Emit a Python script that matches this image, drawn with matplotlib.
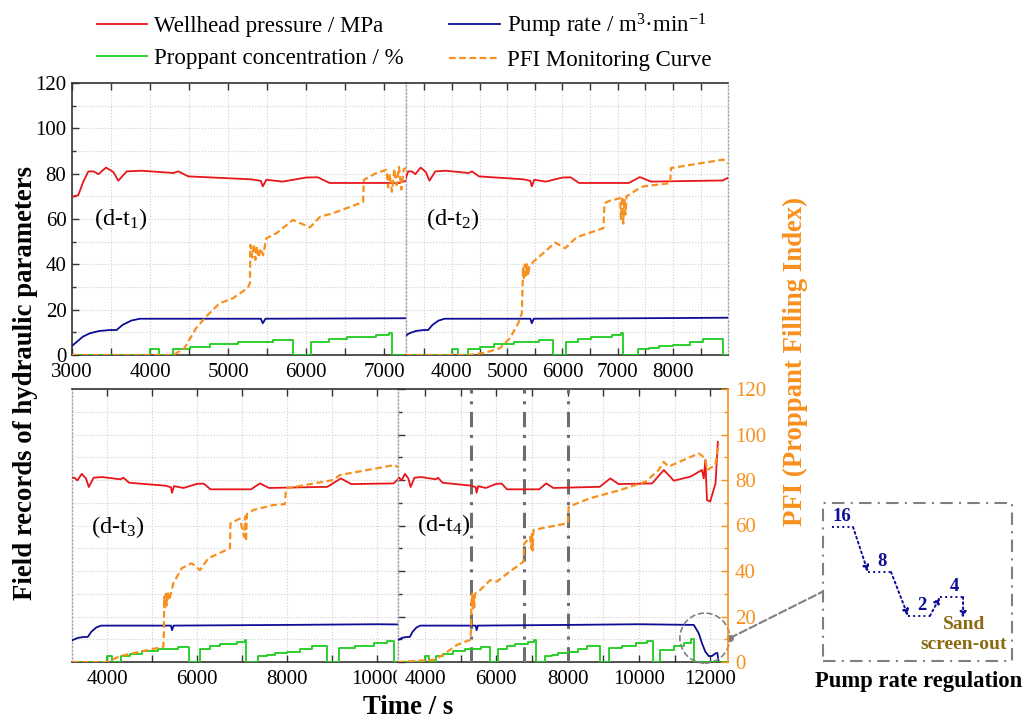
import matplotlib
matplotlib.use("Agg")
import matplotlib.pyplot as plt
from matplotlib.ticker import MultipleLocator
from matplotlib.patches import Ellipse, Rectangle, ConnectionPatch
from matplotlib.transforms import Bbox, TransformedBbox

plt.rcParams['font.family'] = ['Liberation Serif', 'DejaVu Serif']
plt.rcParams['mathtext.fontset'] = 'custom'
plt.rcParams['mathtext.rm'] = 'Liberation Serif'
plt.rcParams['mathtext.it'] = 'Liberation Serif:italic'
plt.rcParams['mathtext.bf'] = 'Liberation Serif:bold'

# ---- shared field records (time in s) ----
press_t = [3000, 3080, 3145, 3210, 3275, 3340, 3436, 3530, 3594, 3700, 3890, 4300, 4363, 4490,
           5300, 5420, 5445, 5490, 5700, 6000, 6150, 6300, 7200, 7400, 7600, 8900, 9200, 9430,
           10370, 10700, 10980, 11450, 11770, 11820, 11865, 11910, 12000, 12150, 12215]
press_v = [69.8, 70.5, 76.5, 81, 81, 79.8, 82.7, 80.7, 76.9, 81, 81.3, 80.3, 81, 78.8,
           77.5, 76.8, 74.4, 77.3, 76.5, 78.3, 78.4, 75.9, 75.9, 78.5, 76.5, 77, 80.7, 78.2,
           78.5, 84.4, 79.7, 81.5, 84.4, 80.7, 88.8, 71.2, 70.5, 78.5, 96.8]

pump_t = [3000, 3140, 3230, 3350, 3480, 3570, 3650, 3760, 3870, 5420, 5445, 5480, 8000, 10000,
          11540, 11680, 11770, 11865, 11960, 12050, 12150, 12200, 12240]
pump_v = [4, 8.1, 9.6, 10.6, 11, 11, 13.3, 15.2, 16, 16, 14, 16, 16.3, 16.6,
          16.3, 12.6, 8.2, 4.5, 2.6, 2.6, 3.8, 4, 0]

conc_t = [3000, 4000, 4110, 4300, 4510, 4770, 5130, 5580, 5830, 6060, 6290, 6520, 6900, 7060,
          7100, 7360, 7560, 7740, 8000, 8300, 8550, 8900, 9150, 9520, 9930, 10230, 10390,
          10580, 10980, 11260, 11450, 11540, 12500]
conc_v = [0, 2.6, 0, 2.6, 3.7, 4.7, 5.9, 6.8, 0, 5.8, 6.9, 7.8, 8.8, 9.8,
          0, 2.6, 3.2, 3.8, 4.6, 5.7, 6.9, 0, 6, 7, 8.2, 9.4, 0,
          5.3, 7, 8.2, 10, 0, 0]

# ---- PFI monitoring curves, one per stage ----
pfi1_t = [3000, 4300, 4440, 4590, 4720, 4890, 5060, 5250, 5280, 5285, 5310, 5330, 5350, 5370,
          5390, 5420, 5450, 5490, 5620, 5830, 6050, 6180, 6350, 6730, 6740, 6900, 7030, 7050,
          7070, 7100, 7130, 7160, 7190, 7220, 7250, 7280]
pfi1_v = [0, 0, 3, 11.8, 17, 22.8, 25, 29.5, 31.7, 48.6, 43, 49, 42, 48,
          43, 47, 44, 51.5, 53.7, 59.6, 56.3, 61, 62.6, 67.5, 77.3, 80.3, 81.7, 74,
          80, 72, 82, 75, 83, 73, 82, 82.5]

pfi2_t = [3170, 4300, 4600, 4870, 5050, 5200, 5265, 5277, 5289, 5300, 5320, 5340, 5360, 5380,
          5400, 5476, 5657, 5868, 6049, 6260, 6742, 6760, 6850, 7044, 7060, 7080, 7100, 7120,
          7140, 7160, 7345, 7465, 7947, 7965, 8912, 8990]
pfi2_v = [0, 0, 1, 3, 7.4, 14, 18.4, 28.7, 39, 34, 40, 35, 40, 35,
          39, 41.2, 45, 49.6, 47.1, 52, 56, 67, 68, 69.2, 60, 70, 58, 69,
          62, 70, 72.9, 74.4, 75.8, 82.5, 86.2, 84.4]

pfi3_t = [3220, 4000, 4290, 4730, 5250, 5263, 5270, 5290, 5310, 5330, 5350, 5380, 5474, 5659,
          5881, 6067, 6252, 6733, 6744, 6950, 7050, 7070, 7090, 7110, 7252, 7696, 7956, 7978,
          9030, 9178, 10400, 10467]
pfi3_v = [0, 0, 2.6, 4.5, 6.7, 12.6, 28.7, 24, 30, 25, 31, 27, 34.6, 41.2,
          43.4, 40.4, 45.6, 50, 61, 63, 55, 64, 53, 65, 66.8, 69, 69.4, 76.3,
          80, 82.2, 86.6, 85.6]

pfi4_t = [3240, 4281, 4562, 4890, 5264, 5292, 5296, 5320, 5340, 5360, 5380, 5400, 5545, 5826,
          6014, 6247, 6761, 6780, 6950, 6980, 7000, 7020, 7040, 7278, 7604, 8006, 8030, 8635,
          9478, 10189, 10553, 10695, 10835, 11678, 11865, 11912, 12146, 12240]
pfi4_v = [0, 1, 3.8, 7.5, 9.7, 14, 25.8, 30, 23, 29, 24, 30, 31.6, 36,
          35.3, 38.2, 44.1, 52, 55, 50, 57, 49, 58, 58.8, 59.8, 61, 68.3, 72,
          75.6, 79.3, 84.4, 88, 85.9, 91.7, 89.5, 84.4, 86.6, 96]

regulation_times = [5300, 6780, 8000]
pump_steps = [16, 8, 2, 4]

RED = '#E8161B'
BLUE = '#0D0D96'
GREEN = '#1ECB1E'
ORANGE = '#F7901E'
GRID = '#CFCFCF'
DOT_SPINE = '#A8A8A8'

W, H = 1027, 721
fig = plt.figure(figsize=(W / 100, H / 100), dpi=100)


def px_axes(x0, x1, ytop, ybot):
    return fig.add_axes([x0 / W, 1 - ybot / H, (x1 - x0) / W, (ybot - ytop) / H])


panels = [
    dict(box=(72, 406, 83, 355), xlim=(3000, 7280), major=1000, minor=500, pfi=(pfi1_t, pfi1_v),
         tag='(d-t$_1$)', tagpos=(0.065, 0.50), left='solid', right='dotted', ylabels=True),
    dict(box=(406, 728, 83, 355), xlim=(3170, 8995), major=1000, minor=500, pfi=(pfi2_t, pfi2_v),
         tag='(d-t$_2$)', tagpos=(0.062, 0.50), left='dotted', right='dotted', ylabels=False),
    dict(box=(72, 398, 389, 662), xlim=(3220, 10470), major=2000, minor=1000, pfi=(pfi3_t, pfi3_v),
         tag='(d-t$_3$)', tagpos=(0.058, 0.495), left='dotted', right='dotted', ylabels=False),
    dict(box=(398, 728, 389, 662), xlim=(3240, 12500), major=2000, minor=1000, pfi=(pfi4_t, pfi4_v),
         tag='(d-t$_4$)', tagpos=(0.058, 0.50), left='dotted', right='none', ylabels=False),
]

axes = []
for p in panels:
    x0, x1, yt, yb = p['box']
    ax = px_axes(x0, x1, yt, yb)
    ax.plot(press_t, press_v, color=RED, lw=1.3, zorder=4)
    ax.plot(pump_t, pump_v, color=BLUE, lw=1.3, zorder=4)
    ax.step(conc_t, conc_v, where='post', color=GREEN, lw=1.3, zorder=4)
    ax.plot(p['pfi'][0], p['pfi'][1], color=ORANGE, lw=1.6, ls=(0, (3, 1.6)), zorder=5)
    ax.set_xlim(*p['xlim'])
    ax.set_ylim(0, 120)
    ax.xaxis.set_major_locator(MultipleLocator(p['major']))
    ax.xaxis.set_minor_locator(MultipleLocator(p['minor']))
    ax.yaxis.set_major_locator(MultipleLocator(20))
    ax.yaxis.set_minor_locator(MultipleLocator(10))
    ax.grid(True, which='both', color=GRID, ls=':', lw=0.8)
    ax.set_axisbelow(True)
    ax.tick_params(axis='x', which='both', direction='in', top=True, length=5, width=1,
                   color='#333333', labelsize=15, pad=6)
    ax.tick_params(axis='y', which='major', direction='in', length=5, width=1, color='#333333',
                   labelsize=15, left=p['ylabels'], labelleft=p['ylabels'], right=False, pad=4)
    ax.tick_params(axis='y', which='minor', direction='in', length=3, width=1, color='#333333',
                   left=p['ylabels'], right=False)
    for side in ['top', 'bottom']:
        ax.spines[side].set_color('#333333')
        ax.spines[side].set_linewidth(1.2)
    for side in ['left', 'right']:
        style = p[side]
        if style == 'solid':
            ax.spines[side].set_color('#333333')
            ax.spines[side].set_linewidth(1.2)
        elif style == 'dotted':
            ax.spines[side].set_color(DOT_SPINE)
            ax.spines[side].set_linestyle(':')
            ax.spines[side].set_linewidth(1.0)
        else:
            ax.spines[side].set_visible(False)
    ax.text(p['tagpos'][0], p['tagpos'][1], p['tag'], transform=ax.transAxes, fontsize=17.5,
            va='center', ha='left', zorder=6)
    axes.append(ax)

ax1, ax2, ax3, ax4 = axes

# tick label "10000" of panel 3 is hidden under panel 4
clip = TransformedBbox(Bbox.from_extents(0, 0, 397 / W, 1), fig.transFigure)
for t in ax3.xaxis.get_major_ticks():
    t.label1.set_clip_box(clip)
    t.label1.set_clip_on(True)

# regulation markers in panel 4
for t in regulation_times:
    ax4.axvline(t, color='#6E6E6E', lw=2.2, ls=(0, (5, 2.5, 1, 2.5)), zorder=3)

# right PFI axis on panel 4
axr = ax4.twinx()
axr.set_ylim(0, 120)
axr.yaxis.set_major_locator(MultipleLocator(20))
axr.yaxis.set_minor_locator(MultipleLocator(10))
axr.tick_params(axis='y', which='major', direction='in', length=5, width=1, colors=ORANGE,
                labelsize=15, pad=5)
axr.tick_params(axis='y', which='minor', direction='in', length=3, width=1, color=ORANGE)
axr.spines['right'].set_color(ORANGE)
axr.spines['right'].set_linewidth(1.2)
for side in ['left', 'top', 'bottom']:
    axr.spines[side].set_visible(False)

# zoom circle around sand screen-out
circ = Ellipse((11850, 10.5), 1400, 22, transform=ax4.transData, fill=False,
               ec='#808080', ls='--', lw=1.2, clip_on=False, zorder=7)
ax4.add_patch(circ)

# inset: pump rate regulation schematic
axi = fig.add_axes([823 / W, 1 - 661 / H, 189 / W, 158 / H])
axi.set_xlim(0, 1)
axi.set_ylim(0, 1)
axi.axis('off')
axi.add_patch(Rectangle((0, 0), 1, 1, transform=axi.transAxes, fill=False, ec='#808080',
                        lw=1.5, ls=(0, (6, 3, 1, 3)), clip_on=False))
lvl_y = [0.848, 0.563, 0.285, 0.405]
lvl_x = [(0.048, 0.159), (0.238, 0.36), (0.45, 0.566), (0.619, 0.741)]
arrow_kw = dict(arrowstyle='-|>', color=BLUE, lw=1.4, ls=':', mutation_scale=9,
                shrinkA=0, shrinkB=0)
for i, val in enumerate(pump_steps):
    xa, xb = lvl_x[i]
    axi.plot([xa, xb], [lvl_y[i], lvl_y[i]], color=BLUE, lw=1.4, ls=':')
    axi.text(xa + 0.05, lvl_y[i] + 0.015, str(val), color=BLUE,
             fontsize=13.5, fontweight='bold', ha='center' if i == 0 else 'left', va='bottom')
    if i + 1 < len(pump_steps):
        axi.annotate('', xy=(lvl_x[i + 1][0], lvl_y[i + 1]), xytext=(xb, lvl_y[i]),
                     arrowprops=arrow_kw)
axi.annotate('', xy=(lvl_x[-1][1], 0.272), xytext=(lvl_x[-1][1], lvl_y[-1]), arrowprops=arrow_kw)
axi.text(0.745, 0.228, 'Sand', color='#8A6A12', fontsize=14, fontweight='bold',
         ha='center', va='center')
axi.text(0.745, 0.105, 'screen-out', color='#8A6A12', fontsize=14, fontweight='bold',
         ha='center', va='center')

con = ConnectionPatch(xyA=(12550, 10.5), coordsA=ax4.transData, xyB=(0, 0.44),
                      coordsB=axi.transAxes, color='#808080', ls='--', lw=1.5, zorder=8)
fig.add_artist(con)
ax4.plot([12550], [10.5], 'o', color='#808080', ms=4, clip_on=False, zorder=8)

fig.text(919 / W, 1 - 682 / H, 'Pump rate regulation', fontsize=16.3, fontweight='bold',
         ha='center', va='center')

# axis titles
fig.text(0.025, 1 - 383 / H, 'Field records of hydraulic parameters', rotation=90,
         fontsize=19.3, fontweight='bold', ha='center', va='center')
fig.text(795 / W, 1 - 361 / H, 'PFI (Proppant Filling Index)', rotation=90, color=ORANGE,
         fontsize=19.3, fontweight='bold', ha='center', va='center')
fig.text(408 / W, 1 - 708 / H, 'Time / s', fontsize=19.3, fontweight='bold',
         ha='center', va='center')

# legend
h_w, = ax1.plot([], [], color=RED, lw=1.3)
h_c, = ax1.plot([], [], color=GREEN, lw=1.3)
h_p, = ax1.plot([], [], color=BLUE, lw=1.3)
h_f, = ax1.plot([], [], color=ORANGE, lw=1.6, ls=(0, (3, 1.6)))
fig.legend([h_w, h_c, h_p, h_f],
           ['Wellhead pressure / MPa', 'Proppant concentration / %',
            'Pump rate / m$^3$·min$^{-1}$', 'PFI Monitoring Curve'],
           loc='upper left', bbox_to_anchor=(76 / W, 1 + 9 / H), ncol=2, frameon=False,
           fontsize=16.5, handlelength=2.2, handletextpad=0.3, columnspacing=2.0,
           labelspacing=0.45)

fig.savefig('out.png', dpi=100)
